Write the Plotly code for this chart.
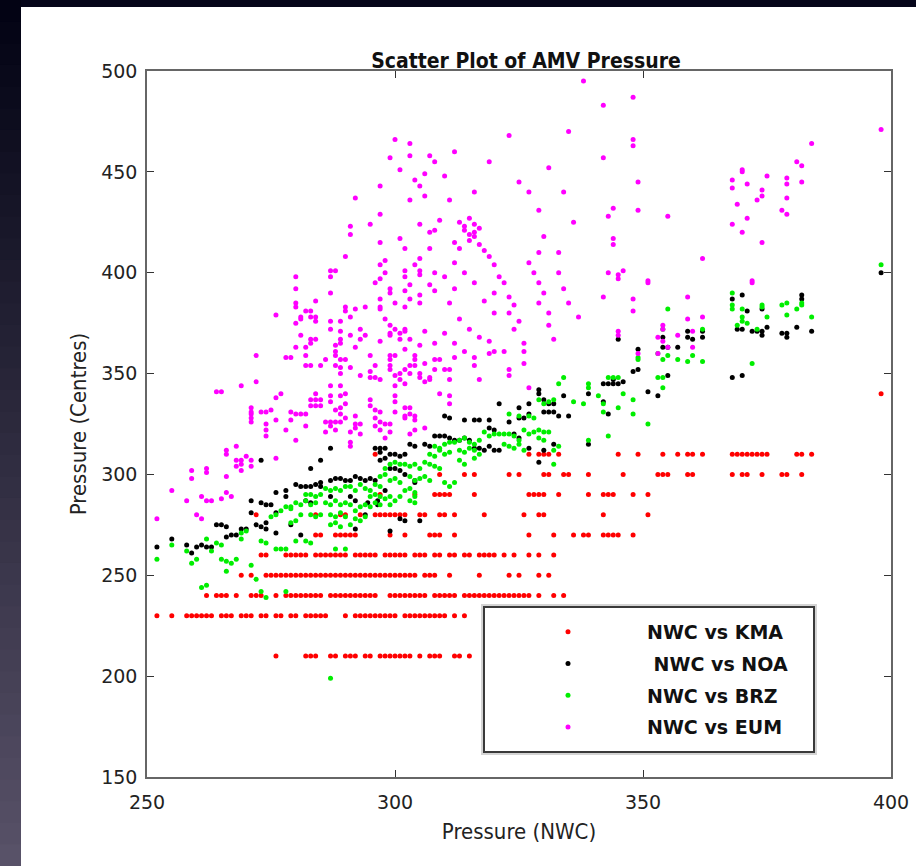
import plotly.graph_objects as go

# ---------------- data ----------------
# KMA: x values (NWC pressure) per KMA pressure level
kma_210 = [276, 282, 283, 284, 287, 288, 290, 291, 292, 294, 295, 297, 298, 299, 300, 301, 302, 303,
           305, 307, 308, 309, 312, 313, 315]
kma_230 = [252, 255, 258, 259, 260, 261, 262, 263, 265, 266, 267, 269, 270, 271, 273, 274, 276, 277,
           279, 280, 282, 283, 284, 285, 286, 290, 292, 293, 294, 295, 296, 297, 298, 299, 300,
           302, 303, 304, 305, 306, 307, 308, 309, 310, 312, 314]
kma_240 = [262, 264, 265, 266, 268, 271, 272, 273, 276, 278, 279, 280, 281, 282, 283, 284, 285,
           287, 288, 289, 290, 291, 292, 293, 294, 295, 296, 299, 300, 301, 302, 303, 304, 305, 306,
           308, 309, 310, 311, 312, 314, 315, 316, 317, 318, 319, 320, 321, 322, 323, 324, 325, 326,
           327, 329, 332, 334]
kma_250 = [269, 271, 274, 275, 276, 277, 278, 279, 280, 281, 282, 283, 284, 285, 286, 287, 288, 289,
           290, 291, 292, 293, 294, 295, 296, 297, 298, 299, 300, 301, 302, 303, 304, 306, 307, 308,
           311, 317, 323, 325, 329, 331]
kma_260 = [273, 274, 278, 279, 280, 281, 282, 284, 285, 286, 287, 288, 289, 290, 292, 293, 294, 295,
           296, 298, 299, 300, 301, 302, 304, 305, 306, 308, 309, 311, 312, 314, 315, 317, 318, 319,
           320, 322, 324, 327, 329, 332]
kma_270 = [284, 285, 288, 289, 290, 291, 292, 299, 302, 307, 308, 309, 312, 327, 332, 336, 338, 339,
           342, 343, 344, 345, 348]
kma_280 = [272, 284, 289, 290, 293, 296, 297, 298, 299, 300, 301, 302, 305, 306, 309, 310, 312, 318,
           326, 329, 330, 342, 351]
kma_290 = [297, 304, 308, 309, 310, 311, 316, 327, 328, 329, 330, 333, 339, 342, 343, 344, 348, 351]
kma_300 = [309, 314, 316, 323, 325, 330, 331, 334, 335, 339, 346, 353, 354, 355, 359, 360, 368, 370,
           371, 374, 378, 379, 382]
kma_310 = [296, 327, 329, 330, 331, 333, 345, 349, 354, 357, 359, 360, 362, 368, 369, 370, 371, 372,
           373, 374, 375, 381, 382, 384]
kma_340 = [398]

# NOA: (NWC, NOA) pairs
noa_xy = [
    (252, 264), (255, 268), (258, 265), (259, 261), (260, 264), (261, 265), (262, 264), (263, 264),
    (264, 275), (265, 275), (266, 269), (267, 270), (266, 274), (268, 270), (269, 273), (270, 273),
    (271, 287), (271, 281), (272, 275), (273, 274), (273, 286), (274, 285), (275, 285), (274, 276),
    (274, 273), (276, 291), (276, 281), (276, 271), (278, 292), (278, 289), (279, 275), (280, 295),
    (281, 294), (282, 294), (283, 294), (284, 295), (281, 270), (282, 287), (283, 286), (285, 296),
    (285, 294), (287, 297), (288, 298), (289, 298), (290, 297), (291, 297), (287, 289), (291, 289),
    (292, 287), (292, 299), (293, 298), (294, 297), (292, 273), (294, 280), (295, 298), (296, 297),
    (296, 313), (297, 313), (298, 313), (297, 311), (297, 307), (298, 308), (299, 310), (300, 310),
    (301, 309), (302, 310), (299, 303), (300, 303), (298, 292), (299, 272), (296.5, 287), (296.5, 285),
    (294.5, 286), (301, 278), (302, 277), (305, 277), (301, 302), (302, 300), (304, 297), (304, 296),
    (303, 315), (304, 314), (306, 315), (307, 314), (308, 319), (309, 319), (310, 319), (311, 318),
    (312, 317), (310, 329), (311, 328), (313, 317), (314, 318), (315, 317), (314, 327), (316, 327),
    (317, 327), (319, 327), (316, 313), (317, 313), (318, 312), (319, 314), (320, 312), (321, 312),
    (319, 323), (320, 322), (321, 335), (323, 326), (324, 320), (325, 318), (325, 328), (326, 328),
    (327, 330), (325, 333), (327, 335), (329, 342), (329, 340), (330, 337), (331, 335), (330, 331),
    (331, 331), (332, 331), (333, 329), (327, 313), (329, 306), (330, 312), (332, 315), (335, 329),
    (334, 339), (332, 335), (339, 340), (339, 315), (287, 313), (283, 303), (285, 307), (273, 307),
    (398, 400), (368, 387), (368, 348), (370, 389), (370, 349), (369, 372), (370, 372), (371, 381),
    (372, 371), (373, 371), (374, 371), (374, 369), (375, 373), (374, 382), (378, 370), (379, 370),
    (379, 368), (381, 373), (382, 389), (382, 387), (384, 371), (354, 368), (354, 363), (355, 363),
    (357, 363), (359, 371), (359, 368), (360, 367), (362, 368), (362, 371), (345, 367), (349, 362),
    (349, 352), (348, 351), (355, 349), (353, 339), (351, 341), (342, 345), (343, 345), (344, 345),
    (344, 347), (345, 345), (346, 346), (342, 336), (343, 330),
]

# BRZ: (NWC, BRZ) pairs
brz_xy = [
    (252, 258), (255, 265), (258, 262), (259, 256), (260, 258), (262, 268), (263, 262), (264, 266),
    (265, 265), (265, 258), (266, 257), (267, 256), (266, 252), (268, 258), (261, 244), (262, 245),
    (269, 268), (269, 271), (270, 272), (271, 255), (272, 248), (273, 267), (274, 266), (274, 239),
    (273, 242), (276, 263), (277, 263), (278, 263), (275, 279), (276, 280), (277, 282), (278, 284),
    (279, 283), (279, 276), (280, 277), (281, 280), (279, 284), (280, 286), (281, 285), (282, 287),
    (283, 285), (284, 286), (278, 242), (280, 267), (282, 267), (283, 266), (283, 280), (284, 279),
    (285, 280), (282, 290), (283, 290), (284, 289), (285, 290), (286, 293), (287, 292), (288, 293),
    (289, 292), (290, 294), (286, 286), (287, 285), (288, 287), (289, 285), (290, 286), (287, 280),
    (288, 279), (289, 281), (290, 279), (287, 275), (288, 276), (289, 274), (288, 263), (290, 263),
    (291, 294), (292, 292), (293, 295), (294, 293), (295, 292), (296, 295), (297, 294), (291, 285),
    (292, 282), (293, 284), (294, 285), (295, 284), (296, 286), (292, 278), (293, 277), (294, 279),
    (291, 275), (295, 289), (296, 290), (297, 299), (298, 300), (299, 297), (300, 298), (301, 296),
    (297, 289), (298, 288), (299, 289), (300, 287), (301, 289), (298, 303), (299, 305), (300, 306),
    (301, 305), (302, 305), (297, 285), (299, 285), (302, 292), (303, 293), (304, 291), (303, 304),
    (304, 305), (305, 303), (306, 306), (303, 299), (304, 297), (305, 298), (306, 299), (307, 297),
    (307, 310), (308, 309), (309, 312), (310, 310), (311, 311), (307, 305), (308, 304), (309, 303),
    (308, 314), (309, 313), (310, 315), (311, 316), (312, 316), (310, 296), (311, 294), (312, 296),
    (303, 287), (304, 286), (304, 289), (313, 312), (314, 311), (315, 313), (316, 312), (317, 310),
    (313, 317), (314, 318), (315, 316), (316, 315), (317, 317), (318, 321), (319, 319), (320, 320),
    (321, 320), (313, 307), (314, 305), (316, 308), (322, 320), (323, 320), (324, 319), (325, 317),
    (322, 315), (323, 314), (324, 313), (325, 315), (326, 312), (326, 322), (327, 320), (328, 321),
    (329, 322), (330, 321), (331, 321), (323, 330), (325, 329), (327, 329), (328, 328), (329, 337),
    (330, 335), (331, 336), (332, 337), (333, 345), (334, 348), (336, 336), (338, 335), (339, 345),
    (339, 343), (339, 317), (341, 339), (332, 305), (329, 318), (330, 317), (333, 314), (332, 312),
    (287, 199),
    (398, 404), (368, 390), (368, 384), (368, 382), (370, 382), (370, 378), (370, 376), (369, 374),
    (371, 375), (373, 372), (374, 384), (374, 383), (375, 378), (372, 355), (378, 384), (379, 385),
    (379, 379), (381, 382), (382, 384), (382, 385), (384, 378), (355, 382), (354, 372), (354, 357),
    (353, 360), (355, 359), (357, 357), (359, 356), (360, 359), (362, 372), (362, 356), (353, 348),
    (354, 348), (354, 343), (349, 358), (349, 357), (348, 337), (348, 330), (351, 325), (346, 340),
    (345, 333), (343, 348), (344, 348), (345, 348), (342, 335), (342, 331), (343, 319),
]

# EUM: (NWC, EUM) pairs
eum_xy = [
    (300, 466), (303, 464), (299, 457), (303, 458), (307, 458), (308, 455), (301, 451), (306, 449),
    (304, 446), (305, 443), (297, 443), (306, 438), (303, 436), (292, 437), (297, 429), (305, 424),
    (309, 426), (295, 424), (291, 423), (291, 419), (307, 420), (308, 421), (301, 417), (297, 415),
    (302, 412), (307, 412), (290, 408), (305, 407), (298, 406), (304, 404), (297, 404), (308, 400),
    (287, 401), (288, 401), (287, 398), (302, 401), (302, 398), (305, 401), (305, 399), (298, 400),
    (297, 397), (280, 398), (296, 395), (280, 392), (303, 394), (307, 394), (287, 390), (299, 392),
    (299, 390), (308, 391), (302, 391), (305, 389), (284, 386), (280, 385), (280, 383), (297, 387),
    (303, 387), (290, 383), (292, 382), (294, 383), (297, 383), (297, 382), (300, 385), (302, 383),
    (305, 385), (282, 381), (283, 381), (281, 378), (281, 377), (283, 378), (284, 378), (284, 376),
    (290, 381), (291, 378), (276, 379), (280, 375), (298, 377), (287, 376), (287, 372), (289, 376),
    (299, 374), (300, 372), (302, 372), (302, 371), (306, 371), (281, 369), (283, 367), (283, 365),
    (284, 367), (289, 371), (289, 367), (289, 365), (288, 364), (291, 369), (293, 372), (294, 369),
    (293, 367), (297, 366), (299, 370), (299, 369), (301, 370), (301, 367), (303, 367), (305, 364),
    (308, 365), (280, 363), (282, 363), (292, 363), (302, 362),
    (272, 359), (278, 358), (279, 358), (282, 359), (282, 354), (283, 354), (285, 354), (286, 357),
    (288, 361), (288, 359), (288, 354), (289, 357), (289, 353), (289, 350), (290, 357), (291, 353),
    (293, 349), (295, 359), (295, 351), (295, 348), (296, 354), (296, 348), (297, 347), (299, 359),
    (299, 357), (299, 354), (299, 352), (300, 359), (300, 349), (300, 344), (301, 350), (301, 347),
    (302, 352), (302, 345), (303, 354), (303, 350), (304, 359), (304, 357), (304, 354), (305, 350),
    (305, 348), (306, 355), (306, 346), (307, 348), (307, 347), (308, 357), (308, 352), (309, 357),
    (310, 352), (311, 352), (311, 347), (312, 358), (314, 361), (316, 358), (316, 354), (317, 347),
    (319, 360), (320, 361), (322, 361), (323, 352), (323, 349), (326, 361), (326, 355), (327, 343),
    (264, 341), (265, 341), (269, 344), (271, 333), (271, 331), (271, 330), (271, 328), (271, 326),
    (272, 346), (273, 331), (274, 331), (275, 332), (274, 325), (274, 322), (274, 319), (276, 338),
    (276, 327), (276, 308), (277, 340), (278, 322), (279, 331), (279, 327), (280, 330), (280, 317),
    (281, 330), (282, 330), (282, 324), (283, 337), (283, 334), (284, 340), (284, 337), (284, 334),
    (285, 337), (285, 334), (286, 326), (286, 321), (287, 344), (287, 339), (287, 336), (287, 326),
    (287, 324), (288, 332), (288, 326), (288, 322), (289, 344), (289, 339), (289, 333), (289, 330),
    (289, 326), (290, 340), (290, 335), (290, 328), (291, 321), (291, 316), (291, 314), (292, 329),
    (292, 325), (292, 323), (293, 325), (293, 320), (295, 337), (295, 334), (296, 332), (296, 328),
    (296, 324), (297, 331), (297, 326), (297, 322), (298, 325), (298, 318), (299, 325), (299, 321),
    (300, 339), (300, 336), (300, 331), (302, 333), (302, 329), (302, 328), (303, 333), (303, 330),
    (303, 320), (304, 329), (304, 327), (304, 322), (306, 323), (309, 340), (311, 339), (311, 335),
    (259, 302), (259, 298), (262, 303), (262, 301), (255, 292), (258, 287), (261, 289), (262, 287),
    (263, 287), (265, 288), (266, 291), (267, 289), (260, 280), (261, 278), (252, 278), (266, 312),
    (266, 310), (268, 314), (268, 307), (269, 307), (269, 305), (270, 309), (266, 299), (268, 304),
    (269, 302), (271, 307), (271, 304),
    (313, 425), (314, 423), (314, 421), (315, 427), (315, 419), (315, 416), (316, 424), (316, 420),
    (316, 418), (317, 422), (317, 414), (313, 412), (312, 415), (318, 411), (312, 405), (319, 408),
    (320, 404), (321, 398), (322, 395), (320, 390), (323, 388), (324, 384), (323, 380), (325, 376),
    (324, 372), (320, 380), (318, 386), (316, 395), (314, 400), (312, 392), (310, 398), (311, 385),
    (313, 377), (315, 372), (317, 368), (319, 366), (310, 370), (312, 365), (327, 405), (328, 400),
    (329, 410), (329, 395), (330, 390), (329, 385), (331, 380), (331, 374), (332, 367), (333, 400),
    (334, 392), (330, 418), (329, 431), (323, 468), (325, 445), (319, 455), (316, 440), (311, 436),
    (310, 448), (312, 460), (338, 495), (335, 470), (331, 452), (334, 440), (336, 425), (327, 440),
    (333, 410), (335, 385), (337, 378), (326, 365),
    (348, 487), (342, 483), (348, 466), (348, 463), (342, 457), (349, 445), (349, 431), (343, 428),
    (344, 432), (355, 428), (344, 417), (344, 414), (343, 400), (345, 399), (345, 397), (346, 401),
    (351, 396), (351, 395), (342, 388), (348, 387), (348, 381), (345, 371), (345, 369), (359, 388),
    (359, 377), (362, 378), (362, 407), (354, 374), (354, 372), (354, 366), (353, 368), (357, 369),
    (360, 371), (360, 363), (355, 363), (353, 360), (349, 360), (368, 446), (368, 442), (370, 451),
    (370, 450), (371, 444), (375, 448), (373, 436), (374, 438), (374, 441), (369, 434), (371, 427),
    (368, 424), (370, 420), (374, 415), (379, 447), (379, 444), (379, 437), (378, 431), (379, 429),
    (381, 455), (382, 453), (382, 445), (384, 464), (372, 396), (372, 395), (398, 471),
]

series_names = ["NWC vs KMA", "\u00a0NWC vs NOA", "NWC vs BRZ", "NWC vs EUM"]
series_colors = ["#ff0000", "#000000", "#00ee00", "#ff00ff"]
x_ticks = [250, 300, 350, 400]
y_ticks = [150, 200, 250, 300, 350, 400, 450, 500]

# ---------------- build ----------------
kma_levels = [(210, kma_210), (230, kma_230), (240, kma_240), (250, kma_250), (260, kma_260),
              (270, kma_270), (280, kma_280), (290, kma_290), (300, kma_300), (310, kma_310),
              (340, kma_340)]
kma_x, kma_y = [], []
for lvl, xs in kma_levels:
    kma_x += xs
    kma_y += [lvl] * len(xs)

def unzip(pairs):
    return [p[0] for p in pairs], [p[1] for p in pairs]

series = [(kma_x, kma_y), unzip(noa_xy), unzip(brz_xy), unzip(eum_xy)]

fig = go.Figure()
for i, ((xs, ys), name, col) in enumerate(zip(series, series_names, series_colors)):
    fig.add_trace(go.Scatter(x=xs, y=ys, mode="markers", name=name, legendgroup="g%d" % i,
                             marker=dict(color=col, size=5, line=dict(width=0))))

W, H = 916, 866
L, R, T, B = 147, 25, 71, 89
pw, ph = W - L - R, H - T - B

def px_x(px):
    return (px - L) / pw

def px_y(py):
    return (H - B - py) / ph

shapes = []
# dark top strip
shapes.append(dict(type="rect", xref="paper", yref="paper", x0=px_x(0), x1=px_x(W),
                   y0=px_y(7), y1=px_y(0), fillcolor="#05051a", line=dict(width=0), layer="below"))
# left gradient strip (slightly overlapping bands to avoid seams)
n = 40
top = (3, 3, 20)
bot = (88, 82, 104)
for i in range(n):
    t = i / (n - 1)
    c = tuple(int(top[k] + (bot[k] - top[k]) * t) for k in range(3))
    shapes.append(dict(type="rect", xref="paper", yref="paper", x0=px_x(0), x1=px_x(21),
                       y0=px_y(min(H, H * (i + 1) / n + 2)), y1=px_y(H * i / n),
                       fillcolor="rgb(%d,%d,%d)" % c, line=dict(width=0), layer="below"))
# legend box (soft halo + framed white box)
shapes.append(dict(type="rect", xref="paper", yref="paper", x0=px_x(482), x1=px_x(816),
                   y0=px_y(754), y1=px_y(605), fillcolor="#ececec",
                   line=dict(color="#d4d4d4", width=2), layer="above"))
shapes.append(dict(type="rect", xref="paper", yref="paper", x0=px_x(484), x1=px_x(814),
                   y0=px_y(752), y1=px_y(607), fillcolor="white",
                   line=dict(color="#3a3a3a", width=2), layer="above"))

font_narrow = "Liberation Sans Narrow, DejaVu Sans Condensed, Open Sans, sans-serif"
tick_font = dict(family="DejaVu Sans, sans-serif", size=19, color="#222")

fig.update_layout(
    width=W, height=H,
    margin=dict(l=L, r=R, t=T, b=B, autoexpand=False),
    paper_bgcolor="white", plot_bgcolor="white",
    title=dict(text="<b>Scatter Plot of AMV Pressure</b>", x=px_x(526), xref="paper", xanchor="center",
               y=1 - 61 / H, yref="container", yanchor="middle",
               font=dict(family=font_narrow, size=21, color="#111")),
    xaxis=dict(range=[250, 400], tickvals=x_ticks, ticks="inside", ticklen=7, tickcolor="#333",
               showline=True, mirror="ticks", linecolor="#666", linewidth=1.5, showgrid=False,
               zeroline=False, tickfont=tick_font, ticklabelstandoff=7,
               title=dict(text="Pressure (NWC)", font=dict(family=font_narrow, size=22, color="#222"),
                          standoff=12)),
    yaxis=dict(range=[150, 500], tickvals=y_ticks, ticks="inside", ticklen=7, tickcolor="#333",
               showline=True, mirror="ticks", linecolor="#666", linewidth=1.5, showgrid=False,
               zeroline=False, tickfont=tick_font, ticklabelstandoff=4,
               title=dict(text="Pressure (Centres)", font=dict(family=font_narrow, size=22, color="#222"),
                          standoff=8)),
    legend=dict(x=px_x(489), y=px_y(613), xanchor="left", yanchor="top",
                bgcolor="rgba(0,0,0,0)", borderwidth=0, traceorder="grouped",
                font=dict(family="DejaVu Sans, sans-serif", size=19, color="#111", weight="bold"),
                itemwidth=148, tracegroupgap=4),
    shapes=shapes,
    showlegend=True,
)

fig.write_html("out.html", config={"displayModeBar": False},
               post_script="document.body.style.margin='0px';")
